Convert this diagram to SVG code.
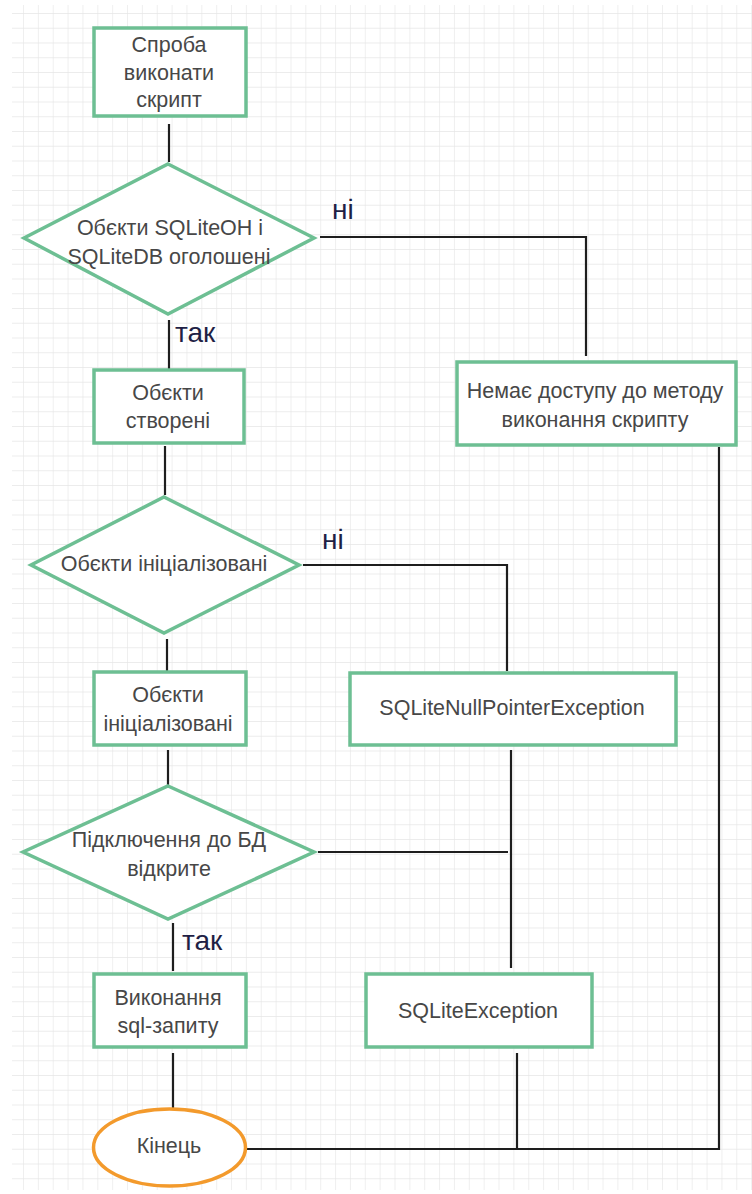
<svg xmlns="http://www.w3.org/2000/svg" width="752" height="1194" viewBox="0 0 752 1194">
<defs>
<pattern id="grid" x="23" y="13" width="14.86" height="14.75" patternUnits="userSpaceOnUse">
<path d="M0 0 H14.86 M0 0 V14.75" fill="none" stroke="#e6e6e6" stroke-width="1.3"/>
</pattern>
<style>
.box{fill:#fff;stroke:#6dbf93;stroke-width:3.5}
.end{fill:#fff;stroke:#f39a2c;stroke-width:3.5}
.t{font-family:"Liberation Sans",Arial,sans-serif;font-size:21.5px;fill:#474747;text-anchor:middle}
.lbl{font-family:"Liberation Sans",Arial,sans-serif;font-size:28px;fill:#1f1f45}
.c{fill:none;stroke:#1e1e1e;stroke-width:2.2}
</style>
</defs>
<rect width="752" height="1194" fill="#fff"/>
<rect x="12" y="5" width="740" height="1185" fill="url(#grid)"/>
<g id="connectors">
<path class="c" d="M169 124 V162"/>
<path class="c" d="M320 237 H586 V356"/>
<path class="c" d="M169 320 V369"/>
<path class="c" d="M165 446 V495"/>
<path class="c" d="M303 565 H507 V671"/>
<path class="c" d="M167 639 V671"/>
<path class="c" d="M168 750 V785"/>
<path class="c" d="M318 852 H508"/>
<path class="c" d="M511 750 V968"/>
<path class="c" d="M173 923 V971"/>
<path class="c" d="M173 1053 V1108"/>
<path class="c" d="M517 1053 V1149"/>
<path class="c" d="M719 447 V1149 H247"/>
</g>
<g id="labels">
<text class="lbl" x="332" y="219">ні</text>
<text class="lbl" x="175" y="342">так</text>
<text class="lbl" x="322" y="549">ні</text>
<text class="lbl" x="182" y="950">так</text>
</g>
<g id="start">
<rect class="box" x="94" y="28" width="152" height="88"/>
<text class="t" x="169" y="52">Спроба</text>
<text class="t" x="169" y="80">виконати</text>
<text class="t" x="169" y="107">скрипт</text>
</g>
<g id="decision1">
<polygon class="box" points="168,164 314,238 168,314 24,238"/>
<text class="t" x="170" y="235">Обєкти SQLiteOH і</text>
<text class="t" x="169" y="264">SQLiteDB оголошені</text>
</g>
<g id="noaccess">
<rect class="box" x="457" y="362" width="279" height="83"/>
<text class="t" x="595" y="398">Немає доступу до методу</text>
<text class="t" x="595" y="427">виконання скрипту</text>
</g>
<g id="created">
<rect class="box" x="94" y="370" width="150" height="73"/>
<text class="t" x="168" y="400">Обєкти</text>
<text class="t" x="168" y="428">створені</text>
</g>
<g id="decision2">
<polygon class="box" points="164,497 299,565 164,633 31,565"/>
<text class="t" x="164" y="571">Обєкти ініціалізовані</text>
</g>
<g id="initialized">
<rect class="box" x="94" y="672" width="152" height="73"/>
<text class="t" x="168" y="702">Обєкти</text>
<text class="t" x="168" y="731">ініціалізовані</text>
</g>
<g id="nullptr">
<rect class="box" x="350" y="673" width="326" height="72"/>
<text class="t" x="512" y="715">SQLiteNullPointerException</text>
</g>
<g id="decision3">
<polygon class="box" points="168,786 314,852 168,919 23,852"/>
<text class="t" x="169" y="847">Підключення до БД</text>
<text class="t" x="169" y="876">відкрите</text>
</g>
<g id="execute">
<rect class="box" x="94" y="974" width="152" height="73"/>
<text class="t" x="168" y="1005">Виконання</text>
<text class="t" x="168" y="1033">sql-запиту</text>
</g>
<g id="sqliteex">
<rect class="box" x="366" y="974" width="226" height="73"/>
<text class="t" x="478" y="1018">SQLiteException</text>
</g>
<g id="end">
<ellipse class="end" cx="169.5" cy="1147.5" rx="76" ry="38.5"/>
<text class="t" x="169" y="1153">Кінець</text>
</g>
</svg>
